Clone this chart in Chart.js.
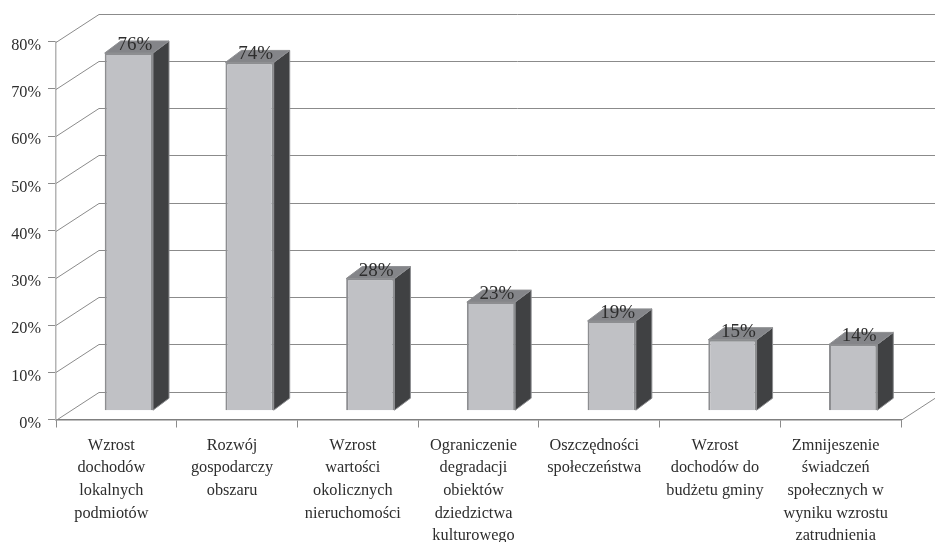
<!DOCTYPE html>
<html lang="pl">
<head>
<meta charset="utf-8">
<title>Korzyści</title>
<script src="https://cdn.jsdelivr.net/npm/chart.js@4/dist/chart.umd.min.js"></script>
<style>
html,body{margin:0;padding:0;background:#fff;}
canvas{display:block;}
</style>
</head>
<body>
<canvas id="c" width="935" height="542"></canvas>
<script>
const categories = [
  ["Wzrost", "dochodów", "lokalnych", "podmiotów"],
  ["Rozwój", "gospodarczy", "obszaru"],
  ["Wzrost", "wartości", "okolicznych", "nieruchomości"],
  ["Ograniczenie", "degradacji", "obiektów", "dziedzictwa", "kulturowego"],
  ["Oszczędności", "społeczeństwa"],
  ["Wzrost", "dochodów do", "budżetu gminy"],
  ["Zmnijeszenie", "świadczeń", "społecznych w", "wyniku wzrostu", "zatrudnienia"]
];
const shares = [76, 74, 28, 23, 19, 15, 14];
const axisTicks = [0, 10, 20, 30, 40, 50, 60, 70, 80];

const SERIF = '"Liberation Serif", serif';
const WALL = {dx: 43, dy: -28};       // wall offset from the front plane
const BAR = {dx: 16, dy: -12, shift: 12.5};  // extrusion of the columns

const perspective = {
  id: 'perspective',
  beforeDatasetsDraw(chart) {
    const {ctx, scales: {x, y}} = chart;
    ctx.save();
    ctx.strokeStyle = '#8b8b8b';
    ctx.lineWidth = 1;
    axisTicks.forEach(v => {
      const py = Math.round(y.getPixelForValue(v)) + 0.5;
      ctx.beginPath();
      ctx.moveTo(x.left, py);
      ctx.lineTo(x.left + WALL.dx, py + WALL.dy);
      ctx.lineTo(chart.width + 2, py + WALL.dy);
      ctx.stroke();
    });
    // right edge of the floor
    const base = Math.round(y.getPixelForValue(0)) + 0.5;
    ctx.beginPath();
    ctx.moveTo(x.right, base);
    ctx.lineTo(x.right + WALL.dx, base + WALL.dy);
    ctx.stroke();
    ctx.restore();
    ctx.save();
    ctx.translate(BAR.shift, 0);
  },
  afterDatasetsDraw(chart) {
    const {ctx} = chart;
    const bars = chart.getDatasetMeta(0).data;
    bars.forEach((bar, i) => {
      const half = bar.width / 2;
      const l = bar.x - half, r = bar.x + half, t = bar.y, b = bar.base;
      ctx.lineWidth = 1;
      ctx.strokeStyle = '#8d8e91';
      ctx.fillStyle = '#404143';
      ctx.beginPath();
      ctx.moveTo(r, t);
      ctx.lineTo(r + BAR.dx, t + BAR.dy);
      ctx.lineTo(r + BAR.dx, b + BAR.dy);
      ctx.lineTo(r, b);
      ctx.closePath();
      ctx.fill();
      ctx.stroke();
      ctx.fillStyle = '#848589';
      ctx.beginPath();
      ctx.moveTo(l, t);
      ctx.lineTo(l + BAR.dx, t + BAR.dy);
      ctx.lineTo(r + BAR.dx, t + BAR.dy);
      ctx.lineTo(r, t);
      ctx.closePath();
      ctx.fill();
      ctx.stroke();
    });
    ctx.restore();
    // value labels sit on the top faces
    ctx.save();
    ctx.font = '19px ' + SERIF;
    ctx.fillStyle = '#2d2d2d';
    ctx.textAlign = 'center';
    ctx.textBaseline = 'alphabetic';
    bars.forEach((bar, i) => {
      ctx.fillText(shares[i] + '%', bar.x + BAR.shift + 6, bar.y - 3);
    });
    ctx.restore();
  }
};

new Chart(document.getElementById('c'), {
  type: 'bar',
  plugins: [perspective],
  data: {
    labels: categories,
    datasets: [{
      data: shares,
      yAxisID: 'yFront',
      backgroundColor: '#c0c1c5',
      borderColor: '#8d8e91',
      borderWidth: 2,
      barPercentage: 0.4,
      categoryPercentage: 1
    }]
  },
  options: {
    responsive: false,
    animation: false,
    events: [],
    layout: {padding: {top: 41.5, right: 34, left: 0, bottom: 0}},
    plugins: {legend: {display: false}, tooltip: {enabled: false}, title: {display: false}},
    scales: {
      x: {
        offset: true,
        afterFit(s) { s.height = 122.5; },
        border: {color: '#7f7f7f', width: 1.5},
        grid: {
          offset: true,
          drawOnChartArea: false,
          tickLength: 8,
          color: '#8b8b8b'
        },
        ticks: {
          maxRotation: 0,
          autoSkip: false,
          labelOffset: -5,
          padding: 6.5,
          color: '#2d2d2d',
          font: {family: SERIF, size: 16.3, lineHeight: '22.7px'}
        }
      },
      y: {
        min: 0,
        max: 80,
        afterFit(s) { s.width = 56; },
        afterBuildTicks(s) { s.ticks = axisTicks.map(value => ({value})); },
        border: {color: '#b4b4b4', width: 1.5},
        grid: {drawOnChartArea: false, tickLength: 8, color: '#8b8b8b'},
        ticks: {
          autoSkip: false,
          labelOffset: 4,
          padding: 7,
          color: '#2d2d2d',
          font: {family: SERIF, size: 16.3},
          callback: v => v + '%'
        }
      },
      // the columns stand on the inner plane, which is set back from the axis
      yFront: {
        display: false,
        min: -1.98,
        max: 78.45
      }
    }
  }
});
</script>
</body>
</html>
